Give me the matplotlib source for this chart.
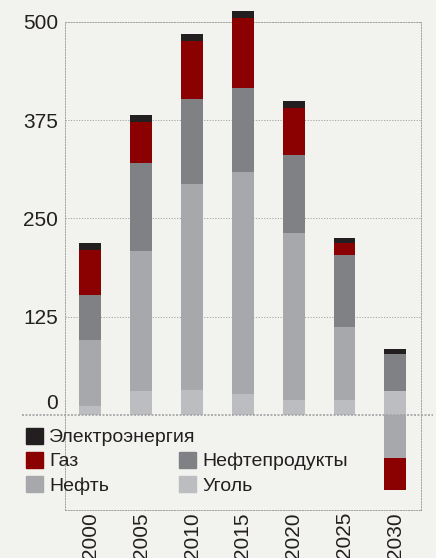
import matplotlib
matplotlib.use("Agg")
import matplotlib.pyplot as plt
from matplotlib.patches import Patch
from matplotlib.transforms import ScaledTranslation
import numpy as np

years = ["2000", "2005", "2010", "2015", "2020", "2025", "2030"]
coal = [11, 30, 32, 26, 19, 19, 30]
oil = [84, 178, 262, 283, 213, 93, -55]
oil_products = [57, 112, 108, 107, 99, 92, 47]
gas = [58, 53, 74, 89, 60, 15, -41]
electricity = [9, 9, 9, 9, 9, 6, 7]

c_coal = "#bcbdc0"
c_oil = "#a7a8ab"
c_prod = "#808184"
c_gas = "#8b0000"
c_elec = "#231f20"
bg = "#f2f2ee"
grid_c = "#a2a2a5"
txt_c = "#231f20"
dots = (0, (1.2, 1.6))

plt.rcParams["font.family"] = ["Liberation Sans", "DejaVu Sans"]

fig = plt.figure(figsize=(4.36, 5.58), dpi=100, facecolor=bg)
# axes spans y from -125 to 500; top edge at pixel 22
ax = fig.add_axes([0.149, 0.0860, 0.816, 0.8746], facecolor=bg)

x = np.arange(len(years))
w = 0.43

# stack positive and negative parts separately
pos_base = np.zeros(len(years))
neg_base = np.zeros(len(years))
for vals, col in [(coal, c_coal), (oil, c_oil), (oil_products, c_prod),
                  (gas, c_gas), (electricity, c_elec)]:
    v = np.array(vals, dtype=float)
    bottoms = np.where(v >= 0, pos_base, neg_base)
    ax.bar(x, v, w, bottom=bottoms, color=col, linewidth=0, zorder=3, clip_on=False)
    pos_base = pos_base + np.where(v >= 0, v, 0)
    neg_base = neg_base + np.where(v < 0, v, 0)

ax.set_xlim(-0.5, 6.5)
ax.set_ylim(-121, 500)

ax.set_yticks([0, 125, 250, 375, 500])
ax.set_yticklabels(["0", "125", "250", "375", "500"])
ax.set_xticks(x)
ax.set_xticklabels(years, rotation=90, va="top", fontsize=12)
ax.tick_params(axis="both", length=0, colors=txt_c, labelsize=15)
ax.tick_params(axis="y", pad=5)
ax.tick_params(axis="x", pad=1.5)

# the zero label sits above its line
lab0 = ax.get_yticklabels()[0]
lab0.set_transform(lab0.get_transform() + ScaledTranslation(0, 13 / 100, fig.dpi_scale_trans))

for yv in [125, 250, 375]:
    ax.axhline(yv, color=grid_c, linestyle=dots, linewidth=0.7, zorder=1)
ax.plot([-0.121, 1.035], [0, 0], transform=ax.get_yaxis_transform(), color=grid_c,
        linestyle=(0, (1.2, 0.9)), linewidth=1.2, zorder=4, clip_on=False)

for s in ax.spines.values():
    s.set_color(grid_c)
    s.set_linestyle(dots)
    s.set_linewidth(0.7)

leg_kw = dict(frameon=False, fontsize=14, handlelength=0.85, handleheight=0.85,
              handletextpad=0.35, borderpad=0, borderaxespad=0, labelcolor=txt_c)

leg1 = fig.legend([Patch(color=c_elec)], ["Электроэнергия"], loc="upper left",
                  bbox_to_anchor=(26 / 436, 1 - 428 / 558), **leg_kw)
leg2 = fig.legend([Patch(color=c_gas), Patch(color=c_oil), Patch(color=c_prod), Patch(color=c_coal)],
                  ["Газ", "Нефть", "Нефтепродукты", "Уголь"], ncol=2, loc="upper left",
                  bbox_to_anchor=(26 / 436, 1 - 452 / 558), labelspacing=0.3,
                  columnspacing=3.6, **leg_kw)

fig.savefig("out.png", dpi=100, facecolor=bg)
